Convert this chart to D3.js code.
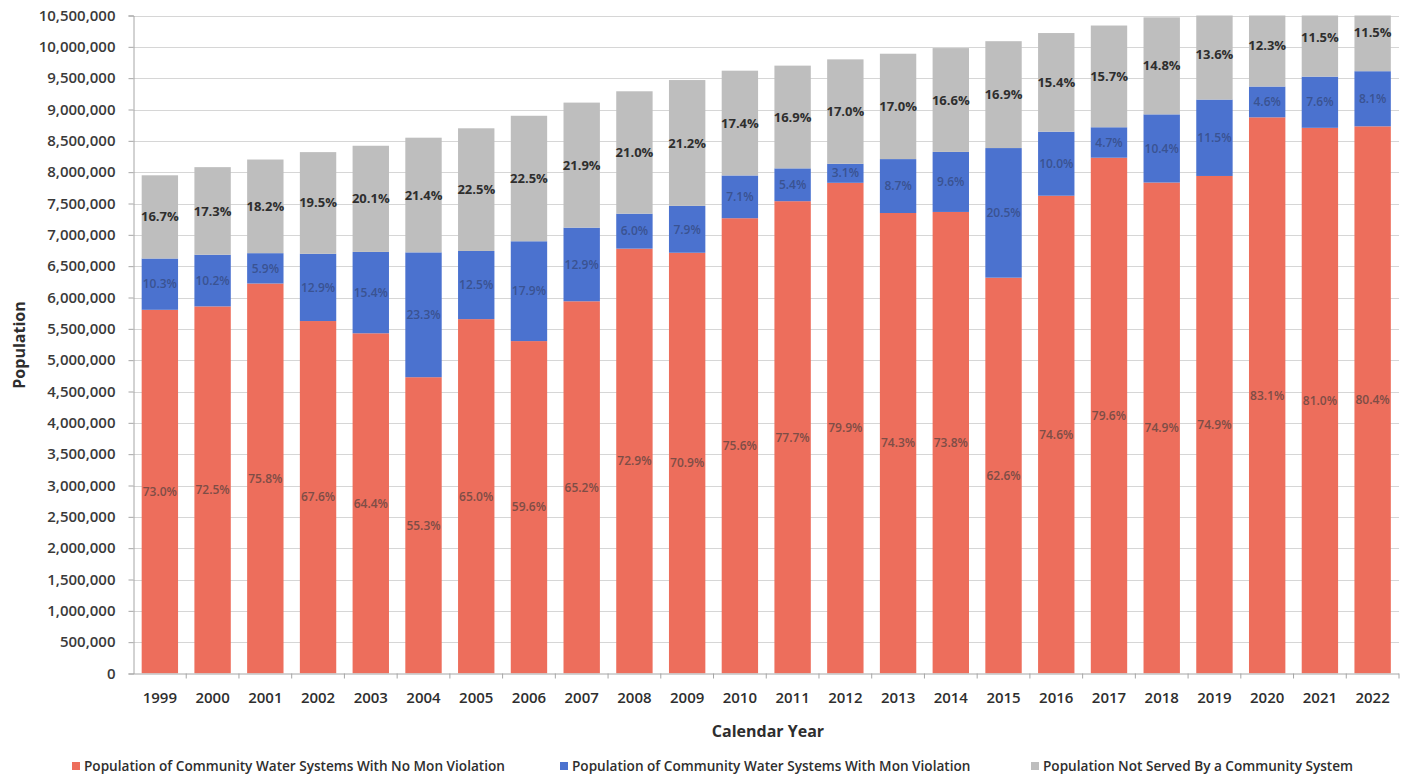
<!DOCTYPE html>
<html>
<head>
<meta charset="utf-8">
<script src="https://cdn.jsdelivr.net/npm/d3@7"></script>
<style>
  html, body { margin: 0; padding: 0; background: #ffffff; }
  svg { display: block; font-family: "Open Sans", "Noto Sans", sans-serif; }
</style>
</head>
<body>
<svg id="chart" width="1413" height="778"></svg>
<script>
// Calendar years on the x axis
const years = ["1999","2000","2001","2002","2003","2004","2005","2006","2007","2008","2009","2010",
               "2011","2012","2013","2014","2015","2016","2017","2018","2019","2020","2021","2022"];

// Total population per year (all three groups together)
const totalPopulation = [7950000, 8080000, 8210000, 8320000, 8430000, 8550000, 8700000, 8900000,
                         9110000, 9300000, 9470000, 9610000, 9700000, 9800000, 9890000, 9980000,
                         10090000, 10220000, 10340000, 10460000, 10600000, 10680000, 10750000, 10860000];

// Share of the total (percent) for each group
const pctNoViolation = [73.0, 72.5, 75.8, 67.6, 64.4, 55.3, 65.0, 59.6, 65.2, 72.9, 70.9, 75.6,
                        77.7, 79.9, 74.3, 73.8, 62.6, 74.6, 79.6, 74.9, 74.9, 83.1, 81.0, 80.4];
const pctViolation   = [10.3, 10.2, 5.9, 12.9, 15.4, 23.3, 12.5, 17.9, 12.9, 6.0, 7.9, 7.1,
                        5.4, 3.1, 8.7, 9.6, 20.5, 10.0, 4.7, 10.4, 11.5, 4.6, 7.6, 8.1];
const pctNotServed   = [16.7, 17.3, 18.2, 19.5, 20.1, 21.4, 22.5, 22.5, 21.9, 21.0, 21.2, 17.4,
                        16.9, 17.0, 17.0, 16.6, 16.9, 15.4, 15.7, 14.8, 13.6, 12.3, 11.5, 11.5];

const seriesNames = [
  "Population of Community Water Systems With No Mon Violation",
  "Population of Community Water Systems With Mon Violation",
  "Population Not Served By a Community System"
];
const yTicks = d3.range(0, 10500001, 500000);

const keys = ["noViol", "viol", "notServed"];
const colors = { noViol: "#ED6E5C", viol: "#4B72CF", notServed: "#BEBEBE" };
const labelColors = { noViol: "#7E4D46", viol: "#3A5392", notServed: "#2E2E2E" };
const pctByKey = { noViol: pctNoViolation, viol: pctViolation, notServed: pctNotServed };

const rows = years.map((y, i) => ({
  year: y,
  noViol: totalPopulation[i] * pctNoViolation[i] / 100,
  viol: totalPopulation[i] * pctViolation[i] / 100,
  notServed: totalPopulation[i] * pctNotServed[i] / 100
}));

const svg = d3.select("#chart");
const plot = { left: 133.5, right: 1399, top: 15.5, bottom: 673.5 };

const x = d3.scaleBand().domain(years).range([plot.left, plot.right]).paddingInner(0.31).paddingOuter(0.155);
const y = d3.scaleLinear().domain([0, 10500000]).range([plot.bottom, plot.top]);

// Horizontal gridlines
svg.append("g").selectAll("line").data(yTicks.slice(1)).join("line")
  .attr("x1", plot.left).attr("x2", plot.right)
  .attr("y1", d => Math.round(y(d)) + 0.5).attr("y2", d => Math.round(y(d)) + 0.5)
  .attr("stroke", "#D6D6D6").attr("stroke-width", 1);

// Bars are clipped at the top of the value axis
svg.append("clipPath").attr("id", "plotClip").append("rect")
  .attr("x", plot.left).attr("y", plot.top)
  .attr("width", plot.right - plot.left).attr("height", plot.bottom - plot.top);

const stacked = d3.stack().keys(keys)(rows);

const barsG = svg.append("g").attr("clip-path", "url(#plotClip)");
barsG.selectAll("g").data(stacked).join("g")
  .attr("fill", d => colors[d.key])
  .selectAll("rect").data(d => d).join("rect")
    .attr("x", d => x(d.data.year))
    .attr("width", x.bandwidth())
    .attr("y", d => y(d[1]))
    .attr("height", d => y(d[0]) - y(d[1]));

// Percentage labels centred in each segment
const labelsG = svg.append("g");
stacked.forEach(layer => {
  labelsG.append("g").selectAll("text").data(layer).join("text")
    .attr("x", d => x(d.data.year) + x.bandwidth() / 2)
    .attr("y", d => y((d[0] + d[1]) / 2))
    .attr("dy", "0.35em")
    .attr("text-anchor", "middle")
    .attr("font-size", layer.key === "notServed" ? 13 : 12)
    .attr("font-weight", layer.key === "notServed" ? 700 : 600)
    .attr("fill", labelColors[layer.key])
    .text((d, i) => pctByKey[layer.key][i].toFixed(1) + "%");
});

// Y axis
const yAxis = d3.axisLeft(y).tickValues(yTicks).tickSize(5).tickPadding(13)
  .tickFormat(d3.format(","));
const yG = svg.append("g").attr("transform", `translate(${plot.left},0)`).call(yAxis);
yG.select(".domain").attr("stroke", "#A6A6A6");
yG.selectAll(".tick line").attr("stroke", "#A6A6A6");
yG.selectAll(".tick text").attr("font-size", 15).attr("font-weight", 600)
  .attr("fill", "#3A3A3A").attr("font-family", "'Open Sans', sans-serif");

// X axis with ticks between categories
const xG = svg.append("g").attr("transform", `translate(0,${plot.bottom})`);
xG.append("line").attr("x1", plot.left).attr("x2", plot.right)
  .attr("y1", 0.5).attr("y2", 0.5).attr("stroke", "#A6A6A6");
const step = x.step();
xG.selectAll("line.sep").data(years).join("line").attr("class", "sep")
  .attr("x1", d => x(d) + x.bandwidth() / 2 + step / 2)
  .attr("x2", d => x(d) + x.bandwidth() / 2 + step / 2)
  .attr("y1", 0).attr("y2", 5).attr("stroke", "#A6A6A6");
xG.selectAll("text").data(years).join("text")
  .attr("x", d => x(d) + x.bandwidth() / 2)
  .attr("y", 24)
  .attr("dy", "0.35em")
  .attr("text-anchor", "middle")
  .attr("font-size", 15).attr("font-weight", 600).attr("fill", "#2E2E2E")
  .text(d => d);

// Axis titles
svg.append("text")
  .attr("transform", "translate(19,345) rotate(-90)")
  .attr("text-anchor", "middle").attr("dy", "0.35em")
  .attr("font-size", 16).attr("font-weight", 700).attr("fill", "#2E2E2E")
  .text("Population");
svg.append("text")
  .attr("x", 768).attr("y", 731).attr("dy", "0.35em")
  .attr("text-anchor", "middle")
  .attr("font-size", 16).attr("font-weight", 700).attr("fill", "#2E2E2E")
  .text("Calendar Year");

// Legend
const legendX = [72, 560, 1031];
const legend = svg.append("g").selectAll("g").data(keys).join("g")
  .attr("transform", (d, i) => `translate(${legendX[i]},766)`);
legend.append("rect").attr("x", 0).attr("y", -4).attr("width", 8).attr("height", 8)
  .attr("fill", d => colors[d]);
legend.append("text").attr("x", 12).attr("y", 0).attr("dy", "0.35em")
  .attr("font-size", 13.6).attr("font-weight", 600).attr("fill", "#2E2E2E")
  .text((d, i) => seriesNames[i]);
</script>
</body>
</html>
